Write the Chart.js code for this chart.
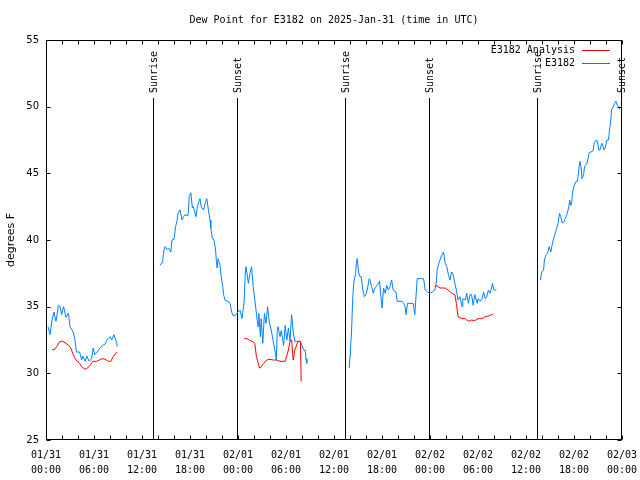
<!DOCTYPE html>
<html>
<head>
<meta charset="utf-8">
<title>Dew Point for E3182</title>
<script src="https://cdn.jsdelivr.net/npm/chart.js@4.4.1/dist/chart.umd.min.js"></script>
<style>
  html, body { margin: 0; padding: 0; background: #fff; }
</style>
</head>
<body>
<canvas id="dewpoint" width="640" height="480"></canvas>
<script>
// hours since 01/31 00:00 UTC, null value = gap in the record
var obsHours = [
  0.25, 0.5, 0.75, 1.0, 1.25, 1.55, 1.75, 1.95, 2.2, 2.5,
  2.8, 3.0, 3.4, 3.6, 3.8, 4.2, 4.45, 4.6, 4.9, 5.1,
  5.4, 5.7, 5.9, 6.1, 6.4, 6.75, 7.1, 7.4, 7.6, 8.0,
  8.2, 8.5, 8.65, 8.85, 8.9, 11,
  14.25, 14.5, 14.6, 14.75, 14.9, 15.1, 15.4, 15.6, 15.75, 16.0,
  16.2, 16.4, 16.5, 16.75, 17.0, 17.2, 17.4, 17.7, 17.8, 17.9,
  18.1, 18.3, 18.4, 18.6, 18.75, 18.95, 19.25, 19.4, 19.7, 19.9,
  20.1, 20.3, 20.5, 20.6, 20.8, 21.0, 21.2, 21.3, 21.4, 21.5,
  21.75, 21.9, 22.1, 22.2, 22.4, 22.8, 23.0, 23.2, 23.4, 23.75,
  24.0, 24.25, 24.5, 24.75, 24.9, 25.0, 25.3, 25.5, 25.7, 25.9,
  26.1, 26.3, 26.5, 26.6, 26.8, 26.9, 27.1, 27.3, 27.5, 27.7,
  27.9, 28.2, 28.4, 28.6, 28.8, 28.9, 29.0, 29.25, 29.4, 29.7,
  29.9, 30.1, 30.3, 30.5, 30.7, 30.9, 31.1, 31.3, 31.8, 32.0,
  32.2, 32.4, 32.5, 32.6, 35,
  37.9, 38.0, 38.05, 38.2, 38.3, 38.4, 38.5, 38.7, 38.8, 38.9,
  39.1, 39.25, 39.4, 39.6, 39.8, 40.0, 40.2, 40.4, 40.5, 40.7,
  40.9, 41.1, 41.4, 41.7, 41.9, 42.0, 42.2, 42.4, 42.6, 42.8,
  43.0, 43.2, 43.4, 43.75, 43.9, 44.5, 44.7, 44.9, 45.0, 45.2,
  45.5, 45.9, 46.1, 46.25, 46.4, 46.96, 47.2, 47.4, 47.7, 48.0,
  48.3, 48.6, 48.75, 48.9, 49.1, 49.25, 49.5, 49.7, 49.9, 50.1,
  50.3, 50.5, 50.7, 50.9, 51.1, 51.3, 51.5, 51.75, 52.0, 52.1,
  52.4, 52.6, 52.8, 53.0, 53.2, 53.4, 53.6, 53.9, 54.0, 54.25,
  54.5, 54.7, 54.9, 55.1, 55.3, 55.5, 55.7, 55.8, 56.0, 56.3,
  59,
  61.8, 61.96, 62.2, 62.3, 62.5, 62.7, 62.9, 63.1, 63.25, 63.4,
  63.6, 63.8, 64.0, 64.2, 64.35, 64.5, 64.7, 64.9, 65.1, 65.2,
  65.35, 65.45, 65.6, 65.7, 65.8, 66.0, 66.2, 66.4, 66.5, 66.65,
  66.75, 66.9, 67.0, 67.2, 67.3, 67.4, 67.6, 67.75, 67.9, 68.1,
  68.4, 68.5, 68.7, 68.9, 69.1, 69.25, 69.4, 69.5, 69.75, 69.9,
  70.1, 70.3, 70.4, 70.6, 70.7, 70.9, 71.1, 71.25, 71.4, 71.6,
  71.7
];
var obsDew = [
  33.5, 32.9, 34.0, 34.6, 33.9, 35.1, 35.0, 34.4, 35.0, 34.2,
  34.5, 33.5, 33.1, 32.6, 31.6, 31.6, 31.0, 31.3, 30.9, 31.3,
  30.9, 31.1, 31.9, 31.4, 31.6, 31.9, 32.1, 32.2, 32.5, 32.75,
  32.5, 32.9, 32.6, 32.25, 32.0, null,
  38.1, 38.3, 38.6, 39.25, 39.5, 39.3, 39.35, 39.1, 40.0, 40.05,
  41.0, 41.5, 42.0, 42.25, 41.5, 41.75, 41.9, 41.8, 42.1, 43.25,
  43.55, 42.4, 42.5, 42.1, 41.75, 42.6, 43.1, 42.5, 42.25, 42.75,
  43.1, 42.25, 41.5, 40.9, 40.1, 40.0, 39.25, 38.4, 37.9, 38.6,
  38.1, 37.25, 36.5, 35.9, 35.45, 35.4, 35.25, 34.6, 34.3, 34.4,
  34.6, 34.75, 34.1, 35.25, 37.4, 38.0, 36.75, 37.5, 38.0, 36.5,
  35.5, 34.5, 33.5, 34.5, 32.75, 34.1, 32.25, 34.5, 33.75, 35.0,
  33.9, 33.1, 32.4, 31.75, 31.0, 33.2, 33.5, 32.75, 33.2, 32.1,
  33.6, 32.5, 33.4, 32.4, 34.4, 33.1, 32.4, 32.4, 32.4, 32.1,
  31.75, 31.75, 31.1, 30.75, null,
  30.4, 31.3, 31.75, 33.25, 35.0, 36.25, 36.9, 37.5, 38.25, 38.6,
  37.5, 37.25, 37.25, 36.25, 35.75, 35.9, 36.4, 37.1, 37.0, 36.5,
  36.0, 36.4, 36.6, 36.9, 35.5, 34.9, 36.4, 36.0, 36.6, 36.25,
  36.5, 37.0, 36.25, 36.1, 35.4, 35.4, 35.25, 35.0, 34.4, 35.25,
  35.25, 35.25, 34.4, 35.75, 37.1, 37.1, 37.1, 36.25, 36.1, 36.0,
  36.1, 36.25, 36.6, 37.75, 38.25, 38.5, 38.9, 39.1, 38.25, 38.0,
  37.4, 37.0, 37.6, 37.4, 36.75, 36.25, 35.5, 35.75, 35.0, 35.6,
  35.5, 36.0, 35.25, 35.9, 35.9, 35.1, 35.9, 35.25, 35.6, 35.4,
  35.6, 36.1, 35.6, 35.75, 36.25, 36.0, 36.4, 36.75, 36.25, 36.25,
  null,
  37.0, 37.6, 37.75, 38.5, 38.9, 39.0, 39.5, 39.1, 39.6, 40.0,
  40.4, 40.8, 41.25, 42.0, 41.75, 41.3, 41.3, 41.6, 41.9, 42.1,
  42.5, 43.0, 42.6, 42.7, 43.5, 44.05, 44.35, 44.4, 44.75, 45.5,
  45.9, 45.4, 44.6, 44.9, 45.4, 45.6, 45.7, 46.1, 46.55, 46.6,
  46.7, 47.25, 47.45, 47.45, 46.75, 46.75, 47.1, 47.25, 46.75, 46.9,
  47.5, 47.5, 48.0, 49.0, 49.75, 50.0, 50.25, 50.4, 50.1, 50.0,
  49.8
];

var anaHours = [
  0.75, 1.0, 1.33, 1.75, 2.1, 2.5, 3.0, 3.2, 3.4, 3.75,
  4.2, 4.45, 4.9, 5.2, 5.5, 5.85, 6.3, 6.67, 7.0, 7.4,
  7.8, 8.1, 8.4, 8.85, 15,
  24.75, 25.1, 25.4, 25.75, 26.1, 26.3, 26.7, 26.8, 27.2, 27.6,
  28.0, 28.4, 28.8, 29.25, 29.9, 30.3, 30.5, 30.7, 30.9, 31.1,
  31.5, 31.8, 31.9, 40,
  48.6, 48.75, 49.25, 49.9, 50.3, 50.7, 51.1, 51.3, 51.5, 52.0,
  52.4, 52.8, 53.2, 53.6, 54.0, 54.5, 54.9, 55.3, 55.7, 55.9
];
var anaDew = [
  31.8, 31.75, 32.0, 32.4, 32.4, 32.25, 32.0, 31.75, 31.4, 31.0,
  30.75, 30.5, 30.3, 30.4, 30.6, 30.9, 30.9, 31.0, 31.1, 31.05,
  30.9, 30.9, 31.25, 31.6, null,
  32.6, 32.6, 32.5, 32.4, 32.25, 31.25, 30.4, 30.4, 30.75, 31.0,
  31.05, 31.0, 31.0, 30.9, 30.9, 31.75, 32.4, 32.5, 31.0, 31.75,
  32.4, 32.4, 29.4, null,
  36.5, 36.6, 36.4, 36.4, 36.25, 36.0, 35.9, 35.25, 34.25, 34.1,
  34.1, 33.9, 34.0, 33.95, 34.1, 34.1, 34.25, 34.3, 34.4, 34.4
];

// sunrise / sunset marks (hours since 01/31 00:00)
var sunHours = [13.375, 23.875, 37.375, 47.875, 61.375, 71.875];
var sunNames = ['Sunrise', 'Sunset', 'Sunrise', 'Sunset', 'Sunrise', 'Sunset'];

// x tick labels every 6 hours
var tickDates = ['01/31', '01/31', '01/31', '01/31', '02/01', '02/01', '02/01',
                 '02/01', '02/02', '02/02', '02/02', '02/02', '02/03'];
var tickTimes = ['00:00', '06:00', '12:00', '18:00', '00:00', '06:00', '12:00',
                 '18:00', '00:00', '06:00', '12:00', '18:00', '00:00'];

var seriesNames = ['E3182 Analysis', 'E3182'];
var seriesColors = ['#ff0000', '#0080ff'];

var monoFont = '"DejaVu Sans Mono", monospace';

function toPoints(hours, values) {
  return hours.map(function (h, i) { return { x: h, y: values[i] }; });
}

// sunrise/sunset vertical lines with rotated labels
var sunPlugin = {
  id: 'sunLines',
  beforeDatasetsDraw: function (chart) {
    var ctx = chart.ctx;
    var xs = chart.scales.x;
    var area = chart.chartArea;
    ctx.save();
    ctx.strokeStyle = '#000';
    ctx.fillStyle = '#000';
    ctx.lineWidth = 1;
    ctx.font = '10px ' + monoFont;
    for (var i = 0; i < sunHours.length; i++) {
      var px = Math.round(xs.getPixelForValue(sunHours[i])) + 0.5;
      ctx.beginPath();
      ctx.moveTo(px, 98);
      ctx.lineTo(px, area.bottom);
      ctx.stroke();
      ctx.save();
      ctx.translate(px + 1, 93);
      ctx.rotate(-Math.PI / 2);
      ctx.textAlign = 'left';
      ctx.textBaseline = 'middle';
      ctx.fillText(sunNames[i], 0, 0);
      ctx.restore();
    }
    ctx.restore();
  }
};

// box, inward tick marks, title and legend
var framePlugin = {
  id: 'frame',
  afterDraw: function (chart) {
    var ctx = chart.ctx;
    var a = chart.chartArea;
    var xs = chart.scales.x;
    var ys = chart.scales.y;
    var L = Math.round(a.left) + 0.5, R = Math.round(a.right) - 0.5;
    var T = Math.round(a.top) + 0.5, B = Math.round(a.bottom) - 0.5;
    ctx.save();
    ctx.strokeStyle = '#000';
    ctx.lineWidth = 1;
    ctx.strokeRect(L, T, R - L, B - T);

    ctx.beginPath();
    for (var h = 0; h <= 72; h += 2) {
      var px = Math.round(xs.getPixelForValue(h)) + 0.5;
      ctx.moveTo(px, B); ctx.lineTo(px, B - 4);
      ctx.moveTo(px, T); ctx.lineTo(px, T + 4);
    }
    for (var v = 25; v <= 55; v += 5) {
      var py = Math.round(ys.getPixelForValue(v)) + 0.5;
      ctx.moveTo(L, py); ctx.lineTo(L + 4, py);
      ctx.moveTo(R, py); ctx.lineTo(R - 4, py);
    }
    ctx.stroke();

    ctx.fillStyle = '#000';
    ctx.font = '10px ' + monoFont;
    ctx.textBaseline = 'middle';
    ctx.textAlign = 'center';
    ctx.fillText('Dew Point for E3182 on 2025-Jan-31 (time in UTC)', (a.left + a.right) / 2, 20);

    // legend
    ctx.textAlign = 'right';
    for (var i = 0; i < seriesNames.length; i++) {
      var ly = 50 + i * 13;
      ctx.fillStyle = '#000';
      ctx.fillText(seriesNames[i], 575, ly);
      ctx.strokeStyle = seriesColors[i];
      ctx.beginPath();
      ctx.moveTo(582, ly + 0.5);
      ctx.lineTo(610, ly + 0.5);
      ctx.stroke();
    }
    ctx.restore();
  }
};

var dewChart = new Chart(document.getElementById('dewpoint'), {
  type: 'line',
  data: {
    datasets: [{
      label: seriesNames[0],
      data: toPoints(anaHours, anaDew),
      borderColor: seriesColors[0],
      borderWidth: 1,
      pointRadius: 0,
      fill: false
    }, {
      label: seriesNames[1],
      data: toPoints(obsHours, obsDew),
      borderColor: seriesColors[1],
      borderWidth: 1,
      pointRadius: 0,
      fill: false
    }]
  },
  options: {
    responsive: false,
    animation: false,
    events: [],
    layout: { padding: { top: 40, right: 18, left: 0, bottom: 0 } },
    plugins: {
      legend: { display: false },
      title: { display: false },
      tooltip: { enabled: false }
    },
    scales: {
      x: {
        type: 'linear',
        min: 0,
        max: 72,
        afterFit: function (scale) {
          scale.height = 40;
          scale.paddingLeft = 0;
          scale.paddingRight = 0;
        },
        afterBuildTicks: function (scale) {
          scale.ticks = tickDates.map(function (d, i) { return { value: i * 6 }; });
        },
        grid: { display: false, drawTicks: false },
        border: { display: false },
        ticks: {
          autoSkip: false,
          maxRotation: 0,
          padding: 8,
          color: '#000',
          font: { family: monoFont, size: 10, lineHeight: 1.5 },
          callback: function (value) {
            var i = Math.round(value / 6);
            return [tickDates[i], tickTimes[i]];
          }
        }
      },
      y: {
        min: 25,
        max: 55,
        afterFit: function (scale) {
          scale.width = 46;
          scale.paddingTop = 0;
          scale.paddingBottom = 0;
        },
        grid: { display: false, drawTicks: false },
        border: { display: false },
        ticks: {
          stepSize: 5,
          padding: 7,
          color: '#000',
          font: { family: '"DejaVu Sans", sans-serif', size: 10 }
        },
        title: {
          display: true,
          text: 'degrees F',
          color: '#000',
          padding: { top: 5, bottom: 0 },
          font: { family: '"DejaVu Sans", sans-serif', size: 11 }
        }
      }
    }
  },
  plugins: [sunPlugin, framePlugin]
});
</script>
</body>
</html>
